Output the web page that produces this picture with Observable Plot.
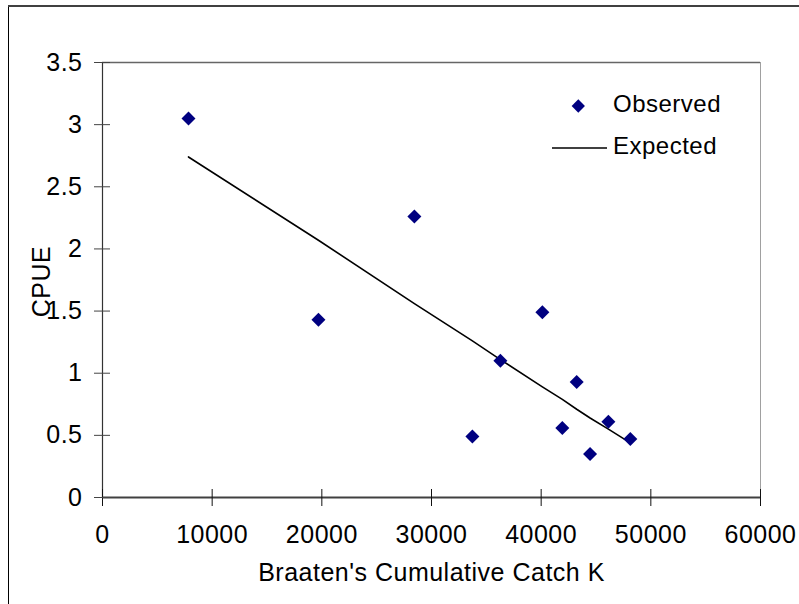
<!DOCTYPE html>
<html>
<head>
<meta charset="utf-8">
<script src="https://cdn.jsdelivr.net/npm/d3@7"></script>
<script src="https://cdn.jsdelivr.net/npm/@observablehq/plot@0.6"></script>
<style>
  html, body { margin: 0; padding: 0; background: white; }
  #chart { position: relative; width: 799px; height: 604px; overflow: hidden; }
  #chart text { letter-spacing: 0.5px; }
  #chart g[aria-label="x-axis tick label"] text, #chart g[aria-label="y-axis tick label"] text { letter-spacing: 1px; }
</style>
</head>
<body>
<div id="chart"></div>
<script>
// ---- data ----
const catchK   = [7840, 19690, 28440, 33730, 36280, 40110, 41930, 43240, 44460, 46130, 48130];
const observed = [3.05, 1.43, 2.26, 0.49, 1.10, 1.49, 0.56, 0.93, 0.35, 0.61, 0.47];
const expected = [2.74, 2.07, 1.56, 1.26, 1.11, 0.89, 0.79, 0.71, 0.64, 0.55, 0.44];
const xTicks = [0, 10000, 20000, 30000, 40000, 50000, 60000];
const yTicks = [0, 0.5, 1, 1.5, 2, 2.5, 3, 3.5];
const xLabel = "Braaten's Cumulative Catch K";
const yLabel = "CPUE";
const seriesNames = ["Observed", "Expected"];

const table = catchK.map((k, i) => ({k, observed: observed[i], expected: expected[i]}));
const navy = "#000080";

const chart = Plot.plot({
  width: 799,
  height: 604,
  marginLeft: 102,
  marginRight: 39,
  marginTop: 62,
  marginBottom: 107,
  style: {fontFamily: "'Liberation Sans', Arial, sans-serif", fontSize: "25px", background: "white", color: "black"},
  x: {domain: [xTicks[0], xTicks[xTicks.length - 1]], label: null},
  y: {domain: [yTicks[0], yTicks[yTicks.length - 1]], label: null},
  marks: [
    // plot area border (top / right)
    Plot.ruleY([yTicks[yTicks.length - 1]], {stroke: "#666", strokeWidth: 1.5}),
    Plot.ruleX([xTicks[xTicks.length - 1]], {stroke: "#a0a0a0", strokeWidth: 1}),
    // axis lines
    Plot.ruleX([xTicks[0]], {stroke: "#333", strokeWidth: 1.2}),
    Plot.ruleY([yTicks[0]], {stroke: "#404040", strokeWidth: 2}),
    // crossing ticks
    Plot.axisX(xTicks, {tickSize: 17, dy: -8, tickFormat: () => "", label: null, stroke: "#111"}),
    Plot.axisY(yTicks, {tickSize: 16, dx: 8, tickFormat: () => "", label: null, stroke: "#444"}),
    // tick labels
    Plot.axisX(xTicks, {tickSize: 0, tickPadding: 28, tickFormat: d => String(d), label: null, fill: "black", ariaLabel: "x-axis tick label"}),
    Plot.axisY(yTicks, {tickSize: 0, tickPadding: 20, tickFormat: d => String(d), label: null, fill: "black", ariaLabel: "y-axis tick label"}),
    // axis titles
    Plot.text([xLabel], {frameAnchor: "bottom", dy: 75, lineAnchor: "middle", textAnchor: "middle", fill: "black"}),
    Plot.text([yLabel], {frameAnchor: "left", dx: -61, dy: 1.5, rotate: -90, lineAnchor: "middle", textAnchor: "middle", fill: "black"}),
    // data
    Plot.line(table, {x: "k", y: "expected", stroke: "black", strokeWidth: 1.6}),
    Plot.dot(table, {x: "k", y: "observed", symbol: "diamond2", r: 6.3, fill: navy, stroke: "none"})
  ]
});

document.getElementById("chart").appendChild(chart);

// legend + outer chart border (decoration)
const svg = d3.select(chart);
const lg = svg.append("g").attr("font-family", "'Liberation Sans', Arial, sans-serif").attr("font-size", 24).attr("fill", "black");
lg.append("path")
  .attr("d", d3.symbol(d3.symbolDiamond2, Math.PI * 36)())
  .attr("transform", "translate(578.3,106)")
  .attr("fill", navy);
lg.append("text").attr("x", 613).attr("y", 112.3).attr("text-anchor", "start").text(seriesNames[0]);
lg.append("line").attr("x1", 552).attr("x2", 607).attr("y1", 148).attr("y2", 148).attr("stroke", "black").attr("stroke-width", 1.6);
lg.append("text").attr("x", 613).attr("y", 153.5).attr("text-anchor", "start").text(seriesNames[1]);

svg.append("line").attr("x1", 8.5).attr("x2", 8.5).attr("y1", 6).attr("y2", 604).attr("stroke", "black").attr("stroke-width", 1);
svg.append("line").attr("x1", 8).attr("x2", 799).attr("y1", 6).attr("y2", 6).attr("stroke", "#404040").attr("stroke-width", 2);
</script>
</body>
</html>
